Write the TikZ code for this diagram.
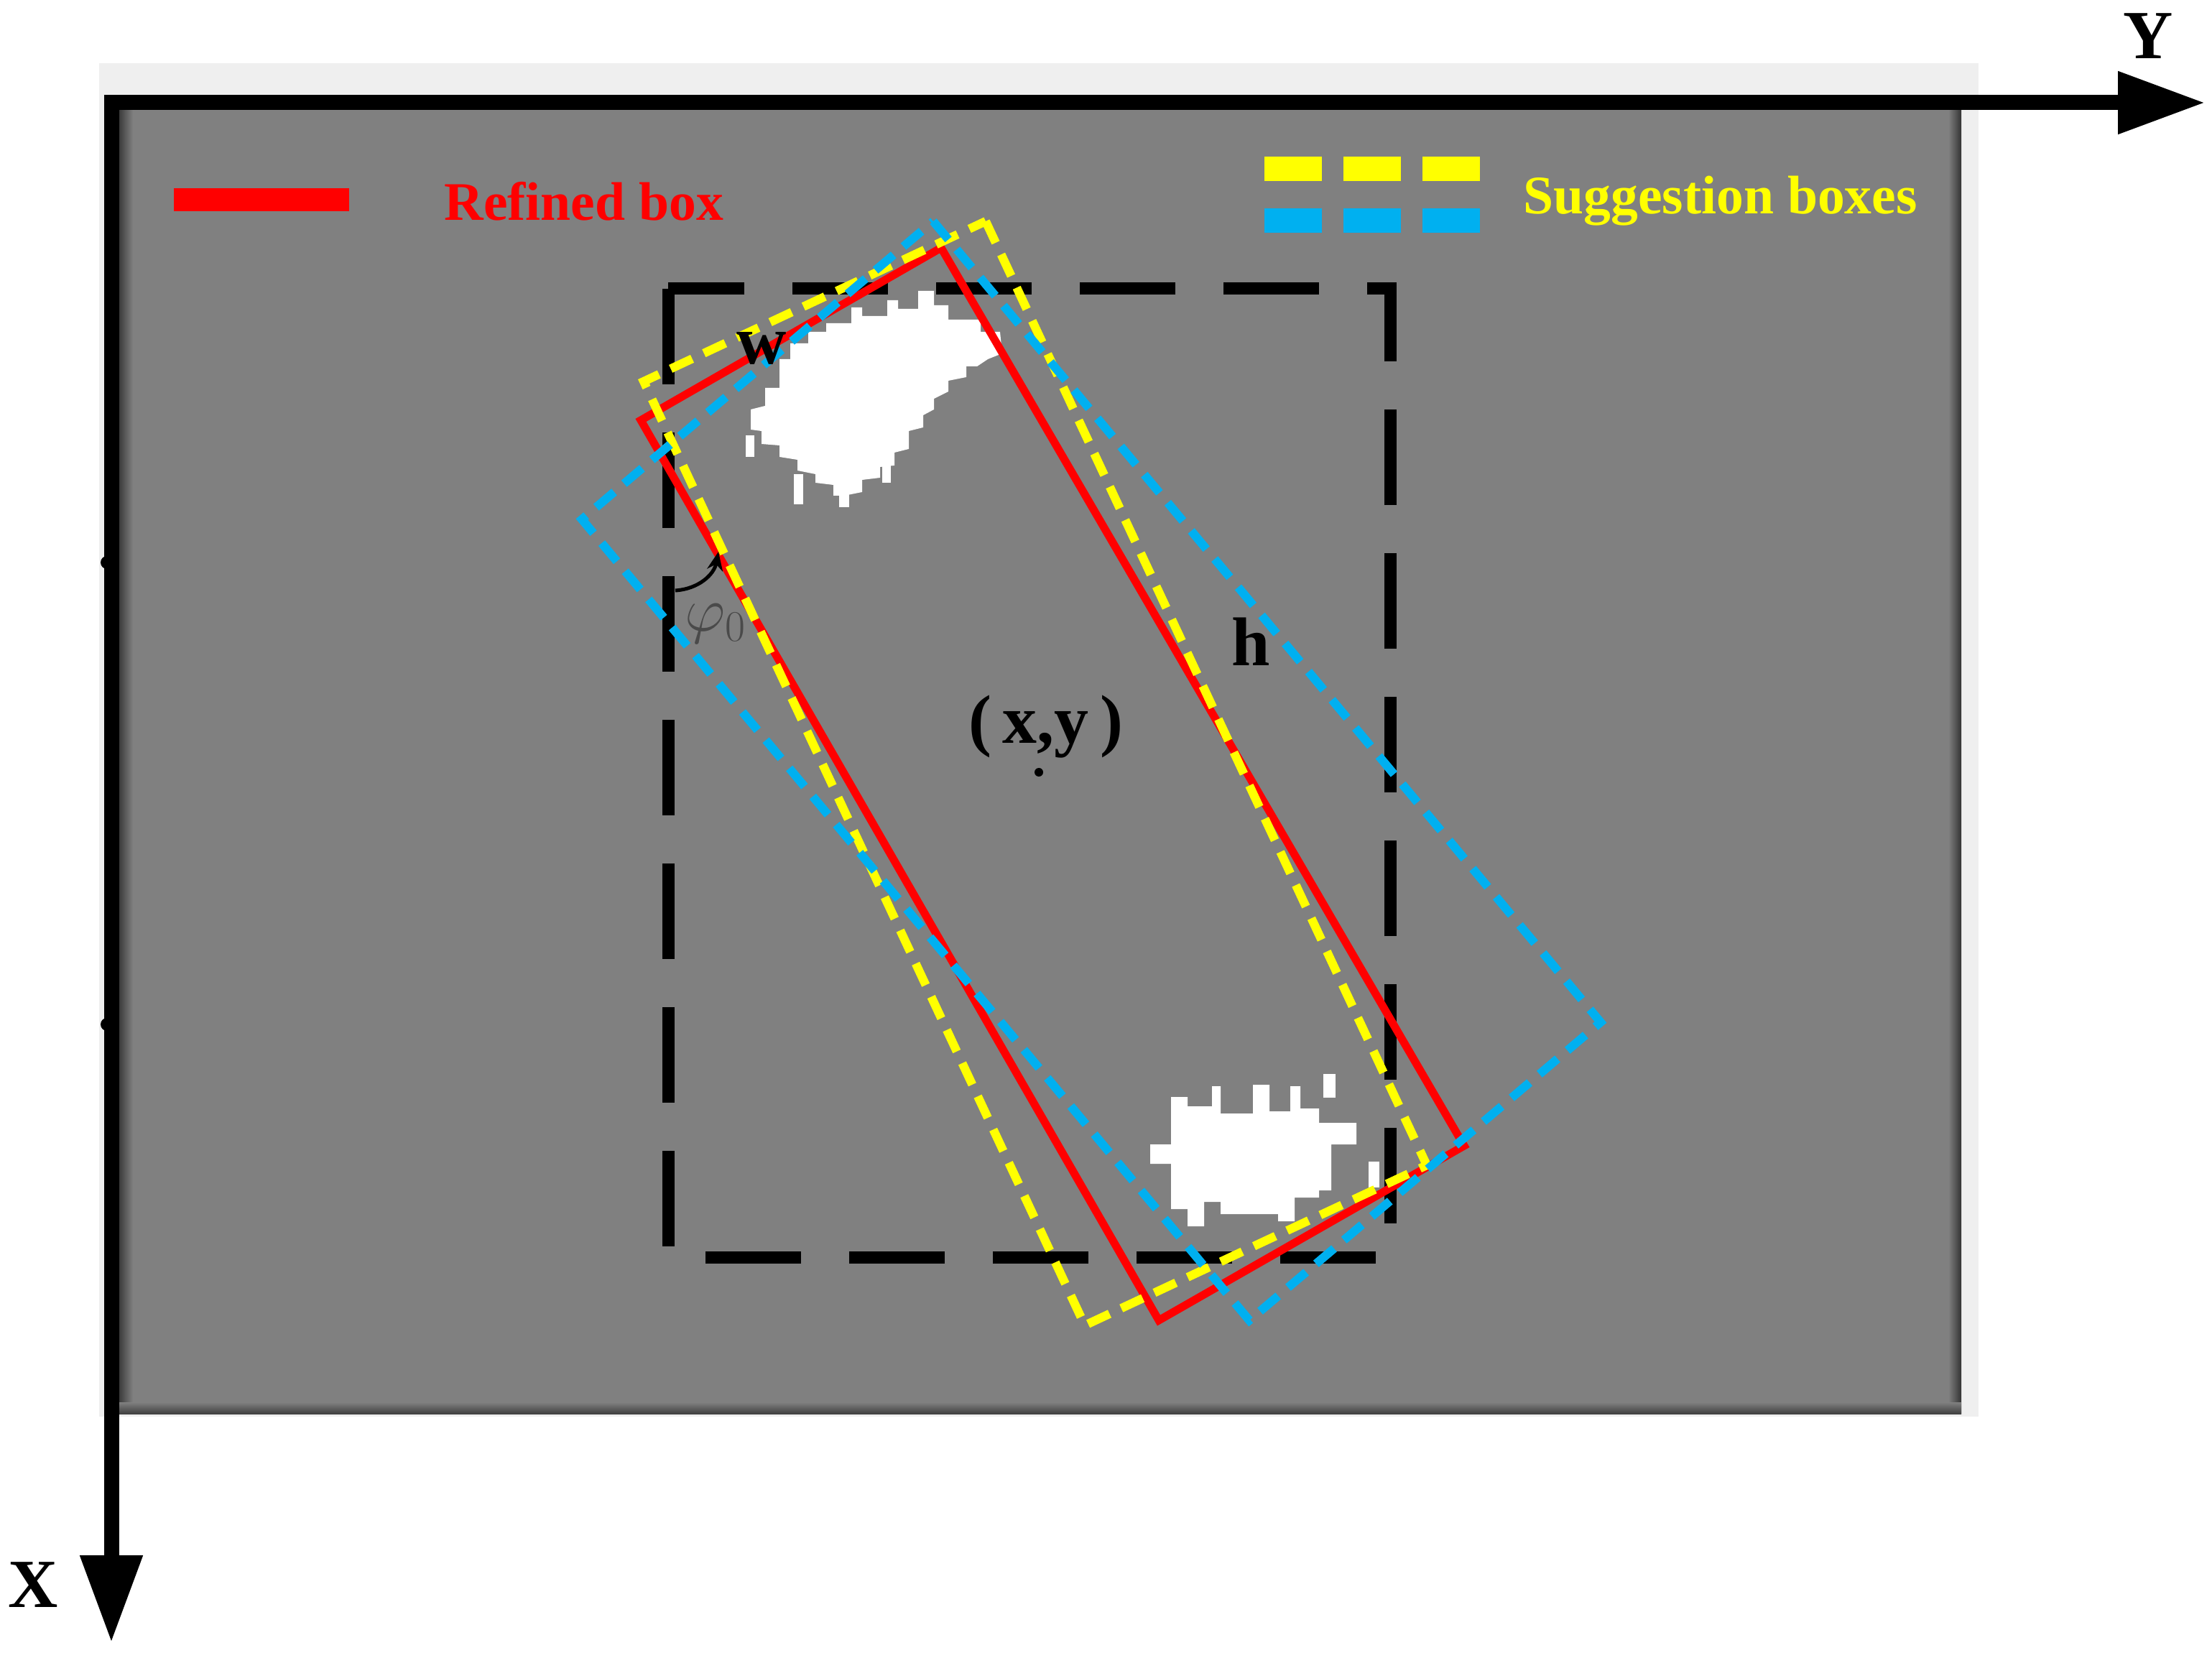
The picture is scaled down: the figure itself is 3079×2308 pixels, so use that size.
\documentclass[tikz,border=0pt]{standalone}
\usepackage{fontspec}
\setmainfont{Liberation Serif}
\usetikzlibrary{arrows.meta}
\definecolor{panelgray}{HTML}{808080}
\definecolor{bandgray}{HTML}{EFEFEF}
\definecolor{suggblue}{HTML}{00B0F0}
\definecolor{suggyellow}{HTML}{FFFF00}
\definecolor{phigray}{HTML}{4A4A4A}
\begin{document}
\begin{tikzpicture}[x=0.1mm,y=-0.1mm,
    axis/.style={line width=2.1mm, line join=miter,
      {Triangle[length=12.2mm, width=8.2mm]}-{Triangle[length=12.2mm, width=8.2mm]}},
    refined/.style={draw=red, line width=1.1mm, line join=miter},
    suggestion/.style={line width=1.2mm, dash pattern=on 3.3mm off 1.8mm},
    roi/.style={line width=1.7mm, dash pattern=on 13.3mm off 6.7mm},
    label/.style={font=\bfseries\fontsize{27.3}{30}\selectfont, inner sep=0pt, anchor=base},
    legend/.style={font=\bfseries\fontsize{21.5}{24}\selectfont, inner sep=0pt, anchor=base west},
    blob/.style={fill=white}]
    \useasboundingbox (0,0) rectangle (3079,2308);
    % background and image panel
    \fill[bandgray] (138,88) rectangle (2754,1972);
    \fill[panelgray] (155,143) rectangle (2730,1967);
    \shade[left color=black!85, right color=panelgray] (160,143) rectangle (185,1967);
    \shade[left color=panelgray, right color=black!80] (2712,143) rectangle (2730,1967);
    \shade[top color=panelgray, bottom color=black!75] (155,1952) rectangle (2730,1968);
    % white targets
    \fill[blob] (1085,520) -- (1085,500) -- (1100,500) -- (1100,478) -- (1125,478) -- (1125,462)
      -- (1150,462) -- (1150,450) -- (1185,450) -- (1185,428) -- (1200,428) -- (1200,440)
      -- (1235,440) -- (1235,418) -- (1250,418) -- (1250,430) -- (1278,430) -- (1278,405)
      -- (1300,405) -- (1300,425) -- (1320,425) -- (1320,445) -- (1365,445) -- (1365,462)
      -- (1392,462) -- (1395,492) -- (1375,500) -- (1360,510) -- (1345,510) -- (1345,525)
      -- (1320,530) -- (1320,545) -- (1300,555) -- (1300,570) -- (1285,578) -- (1285,595)
      -- (1265,600) -- (1265,625) -- (1245,630) -- (1245,648) -- (1225,650) -- (1225,665)
      -- (1200,668) -- (1200,685) -- (1175,690) -- (1160,690) -- (1160,675) -- (1135,672)
      -- (1135,660) -- (1110,655) -- (1110,640) -- (1085,636) -- (1085,620) -- (1060,618)
      -- (1060,600) -- (1045,598) -- (1045,570) -- (1065,565) -- (1065,540) -- (1085,540) -- cycle;
    \fill[blob] (1601,1593) -- (1630,1593) -- (1630,1527) -- (1653,1527) -- (1653,1540)
      -- (1687,1540) -- (1687,1512) -- (1699,1512) -- (1699,1550) -- (1744,1550) -- (1744,1510)
      -- (1767,1510) -- (1767,1547) -- (1796,1547) -- (1796,1512) -- (1810,1512) -- (1810,1543)
      -- (1836,1543) -- (1836,1563) -- (1888,1563) -- (1888,1593) -- (1853,1593) -- (1853,1657)
      -- (1836,1657) -- (1836,1667) -- (1802,1667) -- (1802,1700) -- (1779,1700) -- (1779,1690)
      -- (1699,1690) -- (1699,1673) -- (1676,1673) -- (1676,1707) -- (1653,1707) -- (1653,1683)
      -- (1630,1683) -- (1630,1620) -- (1601,1620) -- cycle;
    \foreach \xa/\ya/\xb/\yb in {1105/660/1118/702, 1168/680/1182/706, 1228/640/1240/672,
        1038/606/1050/636, 1842/1495/1859/1528, 1905/1617/1920/1653}
      \fill[blob] (\xa,\ya) rectangle (\xb,\yb);
    % reference box
    \draw[roi] (930,402) -- (930,1750) -- (1935,1750) -- (1935,402) -- cycle;
    % rotated boxes
    \coordinate (rT) at (1310,345);
    \coordinate (rR) at (2038,1595);
    \coordinate (rB) at (1613,1838);
    \coordinate (rL) at (892,585);
    \coordinate (yT) at (1372,308);
    \coordinate (yR) at (1986,1622);
    \coordinate (yB) at (1510,1845);
    \coordinate (yL) at (896,531);
    \coordinate (bT) at (1299,308);
    \coordinate (bR) at (2228,1423);
    \coordinate (bB) at (1739,1838);
    \coordinate (bL) at (810,723);
    \draw[refined] (rT) -- (rR) -- (rB) -- (rL) -- cycle;
    \draw[suggestion, suggyellow] (yT) -- (yR) -- (yB) -- (yL) -- cycle;
    \draw[suggestion, suggblue] (bT) -- (bR) -- (bB) -- (bL) -- cycle;
    % axes
    \draw[axis] (3070,143) -- (155,143) -- (155,2287);
    \fill (149,783) circle (9);
    \fill (149,1426) circle (9);
    \node[label] (Ylab) at (2990,82) {Y};
    \node[label] (Xlab) at (46,2237) {X};
    % legend
    \draw[red, line width=3.2mm] (242,278) -- (486,278);
    \node[legend, text=red] (reflab) at (618,307) {Refined box};
    \draw[suggyellow, line width=3.4mm, dash pattern=on 8mm off 3mm] (1760,235) -- (2061,235);
    \draw[suggblue, line width=3.4mm, dash pattern=on 8mm off 3mm] (1760,307) -- (2061,307);
    \node[legend, text=suggyellow] (sugglab) at (2120,298) {Suggestion boxes};
    % labels
    \node[label] (wlab) at (1060,507) {w};
    \node[label] (hlab) at (1741,927) {h};
    \node[label] (xylab) at (1456,1035) {(\,x,y\,)};
    \fill (1446,1075) circle (6);
    \coordinate (angA) at (940,822);
    \coordinate (angB) at (1000,768);
    \draw[line width=0.5mm, -{Stealth[length=2.6mm, width=2.2mm]}] (angA) .. controls (972,820) and (994,800) .. (angB);
    \node[font=\fontsize{23.6}{26}\selectfont, text=phigray, inner sep=0pt, anchor=base west] (philab) at (953,879) {$\varphi_0$};
\end{tikzpicture}
\end{document}
